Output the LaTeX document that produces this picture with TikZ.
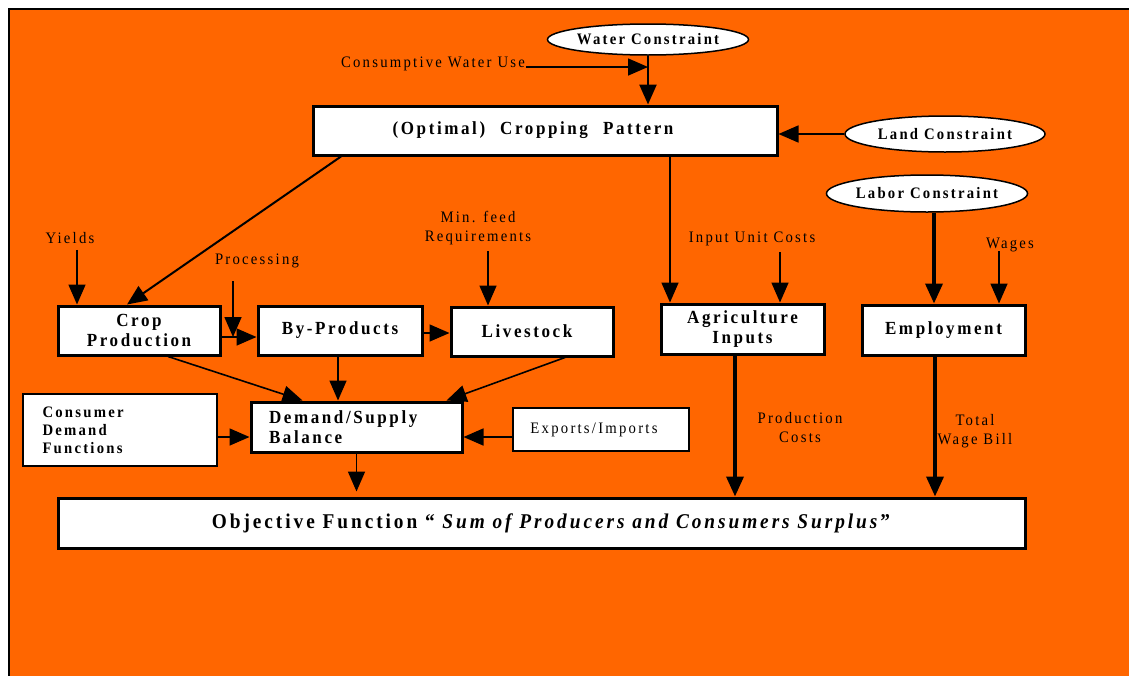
\documentclass[tikz,border=0pt]{standalone}
\usepackage{fontspec}
\setmainfont{Liberation Serif}[FakeStretch=0.92,LetterSpace=14]
\usetikzlibrary{arrows.meta,shapes.geometric}
\definecolor{bgor}{HTML}{FF6600}
\begin{document}
\begin{tikzpicture}[x=1pt,y=-1pt,
 bx/.style={draw,fill=white,line width=3pt,font=\bfseries\fontsize{18.5}{20}\selectfont,align=center,inner sep=0pt},
 thinbx/.style={bx,line width=1.5pt},
 ell/.style={ellipse,draw,fill=white,line width=1.5pt,font=\bfseries\fontsize{16}{18}\selectfont,inner sep=0pt},
 lbl/.style={font=\fontsize{16}{19}\selectfont,align=center,inner sep=1pt},
 arr/.style={-{Triangle[length=20pt,width=17pt]},line width=1.6pt},
 tarr/.style={arr,line width=3.6pt},
]
\useasboundingbox (0,0) rectangle (1129,675);
\fill[bgor] (9,9) rectangle (1140,690);
\draw[line width=2pt] (9,690) -- (9,9) -- (1140,9);

% top constraints
\node[ell,minimum width=200pt,minimum height=31pt] (water) at (648,39.5) {Water Constraint};
\node[lbl,anchor=base] (cwu) at (433,67) {Consumptive Water Use};
\node[bx,minimum width=464pt,minimum height=49pt] (cp) at (545,130.5) {(Optimal)\hspace{15pt}Cropping\hspace{15pt}Pattern\hspace*{24pt}};
\node[ell,minimum width=200pt,minimum height=36pt] (land) at (945,134) {Land Constraint};
\node[ell,minimum width=200pt,minimum height=37pt] (labor) at (927,193.5) {Labor Constraint};

% labels
\node[lbl] (yields) at (70,238) {Yields};
\node[lbl] (proc) at (257,261) {Processing};
\node[lbl] (feed) at (478,228) {Min. feed\\Requirements};
\node[lbl] (iuc) at (752,239) {Input Unit Costs};
\node[lbl] (wages) at (1010,245) {Wages};
\node[lbl] (pcost) at (800,428) {Production\\Costs};
\node[lbl] (twb) at (975,431) {Total\\Wage Bill};

% boxes
\node[bx,minimum width=162pt,minimum height=49pt] (crop) at (139,330.5) {Crop\\Production};
\node[bx,minimum width=164pt,minimum height=49pt] (byp) at (340,330.5) {By-Products};
\node[bx,minimum width=162pt,minimum height=49pt] (live) at (532,331.5) {Livestock\hspace*{10pt}};
\node[bx,minimum width=163pt,minimum height=50pt] (agri) at (742.5,329) {Agriculture\\Inputs};
\node[bx,minimum width=163pt,minimum height=50pt] (empl) at (943.5,330) {Employment};
\node[bx,text width=175pt,align=left,inner xsep=18pt,minimum height=50pt] (dem) at (356.5,427) {Demand/Supply\\Balance};
\node[thinbx,text width=155pt,align=left,inner xsep=19.5pt,minimum height=72pt,font=\bfseries\fontsize{16}{18}\selectfont] (cons) at (120,430) {Consumer\\Demand\\Functions};
\node[thinbx,line width=2pt,minimum width=176pt,minimum height=43pt,font=\fontsize{16}{19}\selectfont] (exp) at (601,429.5) {Exports/Imports\hspace*{14pt}};
\node[bx,minimum width=967pt,minimum height=50pt,font=\bfseries\fontsize{21}{24}\selectfont] (obj) at (541.5,523) {\hspace*{19pt}Objective Function “ \textit{Sum of Producers and Consumers Surplus}”};

% connectors
\draw[arr] (cwu.base east) -- (cwu.base east -| water.south);
\draw[arr,line width=2.5pt] (water.south) -- (water.south |- cp.north);
\draw[arr] (land.west) -- (land.west -| cp.east);
\draw[tarr] ([xshift=7pt]labor.south) -- ([xshift=7pt]labor.south |- empl.north);
\draw[arr,line width=2pt] ([xshift=-204pt]cp.south) -- ([xshift=-12pt]crop.north);
\draw[arr] ([xshift=125pt]cp.south) -- ([xshift=125pt]cp.south |- agri.north);
\draw[arr] ([xshift=7pt,yshift=-5pt]yields.south) -- ([xshift=7pt]yields.south |- crop.north);
\draw[arr] ([xshift=10pt,yshift=-5pt]feed.south) -- ([xshift=10pt]feed.south |- live.north);
\draw[arr] ([xshift=28pt,yshift=-5pt]iuc.south) -- ([xshift=28pt]iuc.south |- agri.north);
\draw[arr] ([xshift=-11pt,yshift=2pt]wages.south) -- ([xshift=-11pt]wages.south |- empl.north);
\draw[arr] ([yshift=-6.5pt]crop.east) -- ([yshift=-6.5pt]crop.east -| byp.west);
\coordinate (pj) at (233,337);
\draw[arr] (pj |- proc.south) ++(0,12) -- (pj);
\draw[arr] ([yshift=-2.5pt]byp.east) -- ([yshift=-2.5pt]byp.east -| live.west);
\draw[arr] ([xshift=29pt]crop.south) -- ([xshift=-54pt]dem.north);
\draw[arr] ([xshift=-2pt]byp.south) -- ([xshift=-2pt]byp.south |- dem.north);
\draw[arr] ([xshift=33pt]live.south) -- ([xshift=90pt]dem.north);
\draw[arr] ([yshift=-7pt]cons.east) -- ([yshift=-7pt]cons.east -| dem.west);
\draw[arr] ([yshift=-7.5pt]exp.west) -- ([yshift=-7.5pt]exp.west -| dem.east);
\draw[arr] (dem.south) -- ([yshift=5pt]dem.south |- obj.north);
\draw[tarr] ([xshift=-7.5pt]agri.south) -- ([xshift=-7.5pt]agri.south |- obj.north);
\draw[tarr] ([xshift=-8.5pt]empl.south) -- ([xshift=-8.5pt]empl.south |- obj.north);
\end{tikzpicture}
\end{document}
